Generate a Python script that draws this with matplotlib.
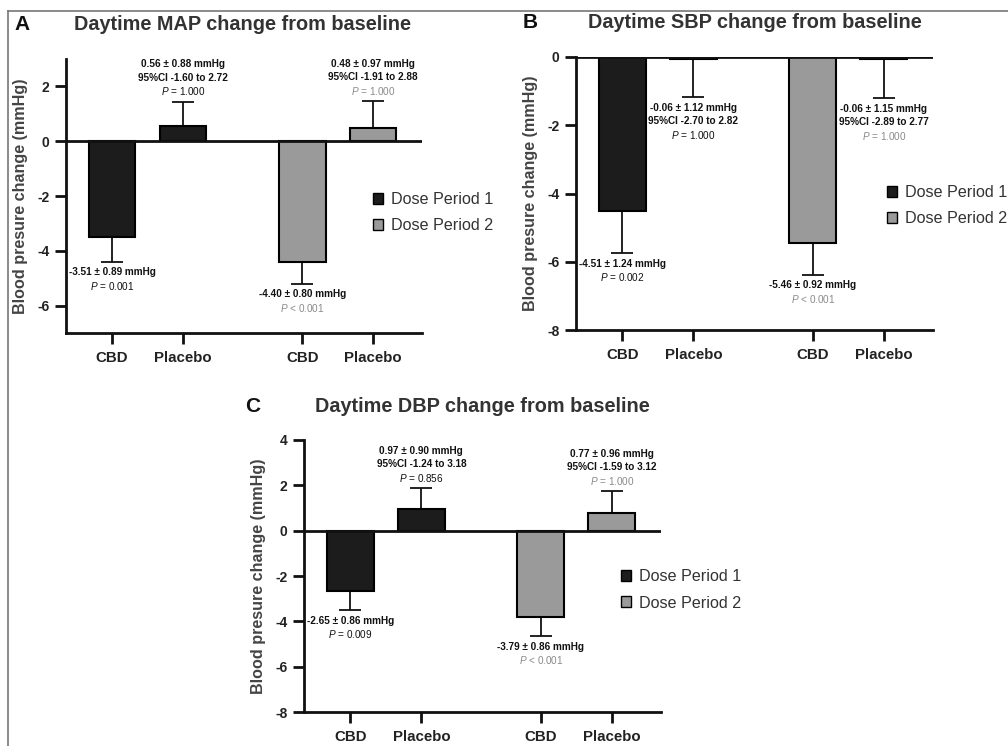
import numpy as np
import matplotlib.pyplot as plt
from matplotlib.patches import Patch
from matplotlib.lines import Line2D

plt.rcParams['font.family'] = ['Liberation Sans', 'DejaVu Sans']
plt.rcParams['mathtext.fontset'] = 'custom'
plt.rcParams['mathtext.it'] = 'Liberation Sans:italic'
plt.rcParams['mathtext.rm'] = 'Liberation Sans'

# datos
grupos = ["CBD", "Placebo", "CBD", "Placebo"]
periodo = [1, 1, 2, 2]
posiciones = [0, 1, 2.68, 3.68]

map_media = [-3.51, 0.56, -4.40, 0.48]
map_sem = [0.89, 0.88, 0.80, 0.97]
map_ic = [None, "-1.60 to 2.72", None, "-1.91 to 2.88"]
map_p = ["= 0.001", "= 1.000", "< 0.001", "= 1.000"]

sbp_media = [-4.51, -0.06, -5.46, -0.06]
sbp_sem = [1.24, 1.12, 0.92, 1.15]
sbp_ic = [None, "-2.70 to 2.82", None, "-2.89 to 2.77"]
sbp_p = ["= 0.002", "= 1.000", "< 0.001", "= 1.000"]

dbp_media = [-2.65, 0.97, -3.79, 0.77]
dbp_sem = [0.86, 0.90, 0.86, 0.96]
dbp_ic = [None, "-1.24 to 3.18", None, "-1.59 to 3.12"]
dbp_p = ["= 0.009", "= 0.856", "< 0.001", "= 1.000"]

colores = {1: "#1c1c1c", 2: "#9a9a9a"}
color_p = {1: "#111111", 2: "#8a8a8a"}


def panel(ax, media, sem, ic, pval, ylim, yticks, leyenda_xy):
    x = np.array(posiciones)
    cols = [colores[p] for p in periodo]
    ax.bar(x, media, width=0.66, color=cols, edgecolor="black", linewidth=1.5, zorder=3)
    for xi, m, s in zip(x, media, sem):
        err = [[s], [0]] if m < 0 else [[0], [s]]
        ax.errorbar(xi, m, yerr=err, fmt="none", ecolor="#111111",
                    elinewidth=1.3, capsize=8, capthick=1.3, zorder=2)
    ax.axhline(0, color="#111111", linewidth=2, zorder=4)

    # anotaciones
    for xi, m, s, c, p, per in zip(x, media, sem, ic, pval, periodo):
        lineas = [(f"{m:.2f} ± {s:.2f} mmHg", "#111111", "bold")]
        if c is not None:
            lineas.append((f"95%CI {c}", "#111111", "bold"))
        lineas.append((r"$P$ " + p, color_p[per], "normal"))
        if m < 0:
            tope = m - s
            offs = [-(7.6 + 9.7 * i) for i in range(len(lineas))]
        else:
            tope = m + s
            offs = [7.6 + 9.7 * i for i in range(len(lineas))][::-1]
        for (txt, col, w), o in zip(lineas, offs):
            ax.annotate(txt, xy=(xi, tope), xytext=(0, o), textcoords="offset points",
                        ha="center", va="center", fontsize=7.2, color=col,
                        fontweight=w, zorder=5)

    ax.set_xlim(-0.65, 4.37)
    ax.set_ylim(*ylim)
    ax.set_yticks(yticks)
    ax.set_yticklabels([str(t) for t in yticks], fontweight="bold", fontsize=10, color="#222222")
    ax.set_xticks(x)
    ax.set_xticklabels(grupos, fontweight="bold", fontsize=10.8, color="#222222")
    for lado in ["top", "right"]:
        ax.spines[lado].set_visible(False)
    for lado in ["left", "bottom"]:
        ax.spines[lado].set_linewidth(2)
        ax.spines[lado].set_color("#111111")
    ax.tick_params(axis="both", direction="out", width=2, length=8, color="#111111")
    ax.tick_params(axis="x", pad=5)
    ax.tick_params(axis="y", pad=4)
    ax.set_ylabel("Blood presure change (mmHg)", fontsize=11.6, fontweight="bold", color="#444444")
    ax.yaxis.set_label_coords(-0.106, 0.5)

    handles = [Patch(facecolor=colores[1], edgecolor="black", linewidth=1, label="Dose Period 1"),
               Patch(facecolor=colores[2], edgecolor="black", linewidth=1, label="Dose Period 2")]
    ax.legend(handles=handles, loc="center left", bbox_to_anchor=leyenda_xy, frameon=False,
              fontsize=11.6, handlelength=0.65, handleheight=0.65, handletextpad=0.45,
              labelspacing=0.7, borderpad=0, borderaxespad=0,
              labelcolor="#333333")
    return ax


fig = plt.figure(figsize=(10.08, 7.46), dpi=100)

axA = fig.add_axes([66 / 1008, 1 - 333 / 746, 356 / 1008, 274 / 746])
axB = fig.add_axes([576 / 1008, 1 - 330 / 746, 357 / 1008, 273 / 746])
axC = fig.add_axes([304 / 1008, 1 - 712 / 746, 357 / 1008, 272 / 746])

panel(axA, map_media, map_sem, map_ic, map_p, (-7, 3), [-6, -4, -2, 0, 2], (0.862, 0.44))
panel(axB, sbp_media, sbp_sem, sbp_ic, sbp_p, (-8, 0), [-8, -6, -4, -2, 0], (0.871, 0.456))
panel(axC, dbp_media, dbp_sem, dbp_ic, dbp_p, (-8, 4), [-8, -6, -4, -2, 0, 2, 4], (0.888, 0.449))


# titulos y letras
def px(x, y):
    return x / 1008, 1 - y / 746


for (lx, ly), (tx, ty), letra, titulo in [
        ((22, 25), (242, 25), "A", "Daytime MAP change from baseline"),
        ((530, 23), (755, 22), "B", "Daytime SBP change from baseline"),
        ((253, 407), (482, 407), "C", "Daytime DBP change from baseline")]:
    fig.text(*px(lx, ly), letra, fontsize=15, fontweight="bold", ha="center", va="center", color="#111111")
    fig.text(*px(tx, ty), titulo, fontsize=14.3, fontweight="bold", ha="center", va="center", color="#333333")

# marco
fig.add_artist(Line2D([8 / 1008, 1], [1 - 11 / 746] * 2, color="#777777", linewidth=1.2))
fig.add_artist(Line2D([8 / 1008] * 2, [0, 1 - 11 / 746], color="#777777", linewidth=1.2))

fig.savefig("out.png", dpi=100)
